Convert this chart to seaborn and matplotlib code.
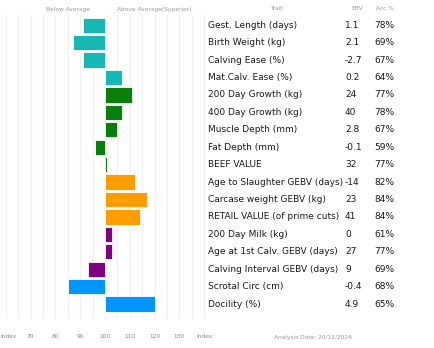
import matplotlib
matplotlib.use("Agg")
import matplotlib.pyplot as plt
import matplotlib.transforms as mtransforms
import seaborn as sns
import pandas as pd

traits = ["Gest. Length (days)", "Birth Weight (kg)", "Calving Ease (%)", "Mat.Calv. Ease (%)",
          "200 Day Growth (kg)", "400 Day Growth (kg)", "Muscle Depth (mm)", "Fat Depth (mm)",
          "BEEF VALUE", "Age to Slaughter GEBV (days)", "Carcase weight GEBV (kg)",
          "RETAIL VALUE (of prime cuts)", "200 Day Milk (kg)", "Age at 1st Calv. GEBV (days)",
          "Calving Interval GEBV (days)", "Scrotal Circ (cm)", "Docility (%)"]
ebv = ["1.1", "2.1", "-2.7", "0.2", "24", "40", "2.8", "-0.1", "32", "-14", "23", "41",
       "0", "27", "9", "-0.4", "4.9"]
acc = ["78%", "69%", "67%", "64%", "77%", "78%", "67%", "59%", "77%", "82%", "84%", "84%",
       "61%", "77%", "69%", "68%", "65%"]
index_vals = [91, 87, 91, 107, 111, 107, 105, 96, 101, 112, 117, 114, 103, 103, 93, 85, 120]
groups = ["calving"] * 4 + ["growth"] * 5 + ["carcase"] * 3 + ["fertility"] * 3 + ["other"] * 2
tick_values = [70, 80, 90, 100, 110, 120, 130, 140]
tick_labels = ["70", "80", "90", "100", "110", "120", "130", "Index"]

palette = {"calving": "#17B8B3", "growth": "#087F08", "carcase": "#FF9C00",
           "fertility": "#810081", "other": "#0096FF"}

df = pd.DataFrame({"trait": traits, "index": index_vals, "group": groups})
df["dev"] = df["index"] - 100

sns.set_theme(style="white")
plt.rcParams["font.family"] = ["DejaVu Sans"]

W, H = 435, 348
fig = plt.figure(figsize=(W / 100, H / 100), dpi=100)
ax_left, ax_right = 0 / W, 206.5 / W
ax_top, ax_bot = 15 / H, 319 / H
ax = fig.add_axes([ax_left, 1 - ax_bot, ax_right - ax_left, ax_bot - ax_top])

for v in range(60, 145, 5):
    ax.axvline(v - 100, color="#F0F0F0", lw=0.9, zorder=0)

sns.barplot(data=df, x="dev", y="trait", hue="group", palette=palette, dodge=False,
            legend=False, width=0.88, edgecolor="white", linewidth=0.6, ax=ax,
            order=traits, hue_order=list(palette.keys()), saturation=1, zorder=2)

ax.set_xlim(57.6 - 100, 141 - 100)
ax.set_ylim(16.86, -0.59)
ax.set_xticks([t - 100 for t in tick_values])
ax.set_xticklabels(tick_labels)
ax.tick_params(axis="x", length=0, labelsize=4.2, labelcolor="#888888", pad=11)
ax.set_yticks([])
ax.set_xlabel("")
ax.set_ylabel("")
for s in ax.spines.values():
    s.set_visible(False)

tr = mtransforms.blended_transform_factory(fig.transFigure, ax.transData)
fs = 6.45
tc = "#1a1a1a"
for i in range(len(traits)):
    ax.text(208 / W, i, traits[i], transform=tr, fontsize=fs, va="center", ha="left", color=tc)
    ax.text(345 / W, i, ebv[i], transform=tr, fontsize=fs, va="center", ha="left", color=tc)
    ax.text(374 / W, i, acc[i], transform=tr, fontsize=fs, va="center", ha="left", color=tc)

hc = "#999999"
hs = 4.2
fig.text(0.5 / W, 1 - 337 / H, "Index", fontsize=hs, color="#888888", ha="left", va="center")
fig.text(276 / W, 1 - 9 / H, "Trait", fontsize=hs, color=hc, ha="center", va="center")
fig.text(357 / W, 1 - 9 / H, "EBV", fontsize=hs, color=hc, ha="center", va="center")
fig.text(385 / W, 1 - 9 / H, "Acc %", fontsize=hs, color=hc, ha="center", va="center")
fig.text(68 / W, 1 - 10 / H, "Below Average", fontsize=hs, color=hc, ha="center", va="center")
fig.text(154 / W, 1 - 10 / H, "Above Average(Superior)", fontsize=hs, color=hc, ha="center", va="center")
fig.text(313 / W, 1 - 337 / H, "Analysis Date: 20/12/2024", fontsize=hs, color=hc, ha="center", va="center")

fig.savefig("out.png", dpi=100, facecolor="white")
